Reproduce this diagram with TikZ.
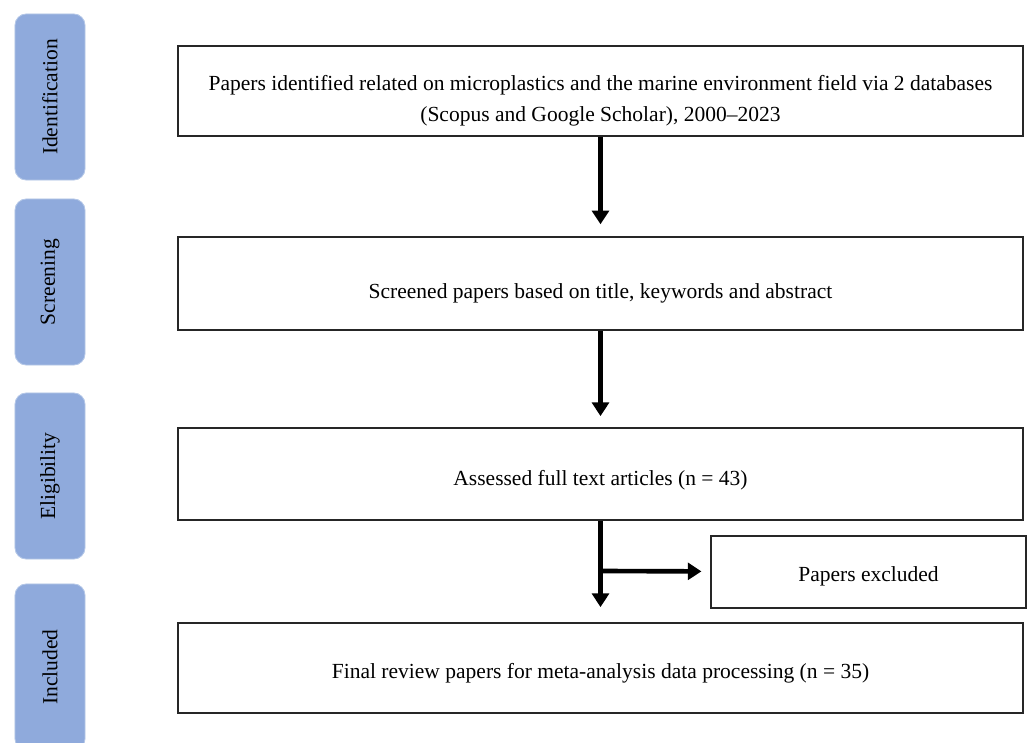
\documentclass[tikz,border=0pt]{standalone}
\usepackage{fontspec}
\setmainfont{Liberation Serif}
\usetikzlibrary{arrows.meta}
\definecolor{phasefill}{HTML}{8FAADC}
\definecolor{phaseline}{HTML}{B4C7E7}
\newcommand{\lift}[1]{\rule{0pt}{#1}}
\tikzset{
  phase/.style={draw=phaseline, line width=0.6pt, fill=phasefill, rounded corners=0.28cm,
    rotate=90, minimum width=4.15cm, minimum height=1.75cm, inner sep=0pt},
  stage/.style={draw=black!85, line width=1pt, minimum width=21.125cm, align=center, inner sep=0pt},
  flow/.style={line width=3.3pt, -{Triangle[length=0.34cm,width=0.42cm]}}
}
\begin{document}
\begin{tikzpicture}[x=0.025cm, y=-0.025cm, font=\fontsize{15.3}{22}\selectfont]
\clip (0,0) rectangle (1027,743);
% phases on the left
\foreach \n/\y/\t in {ident/97/Identification, screen/282/Screening, elig/476/Eligibility, incl/667/Included}
  \node[phase] (\n) at (50,\y) {\t};
% stages
\node[stage, minimum height=2.25cm] (found) at (600.5,91)
  {\lift{25pt}Papers identified related on microplastics and the marine environment field via 2 databases\\(Scopus and Google Scholar), 2000--2023};
\node[stage, minimum height=2.325cm] (screened) at (600.5,283.5) {\lift{25pt}Screened papers based on title, keywords and abstract};
\node[stage, minimum height=2.3cm] (assessed) at (600.5,474) {\lift{19pt}Assessed full text articles (n = 43)};
\node[stage, minimum width=7.875cm, minimum height=1.8cm] (excl) at (868.5,572) {\lift{17pt}Papers excluded};
\node[stage, minimum height=2.25cm] (final) at (600.5,668) {\lift{18.5pt}Final review papers for meta-analysis data processing (n = 35)};
\coordinate (split) at (600.5,571);
% arrows
\draw[flow, shorten >=0.3cm] (found) -- (screened);
\draw[flow, shorten >=0.28cm] (screened) -- (assessed);
\draw[flow, shorten >=0.38cm] (assessed) -- (final);
\draw[flow, shorten >=0.22cm] (split) -- (excl);
\end{tikzpicture}
\end{document}
